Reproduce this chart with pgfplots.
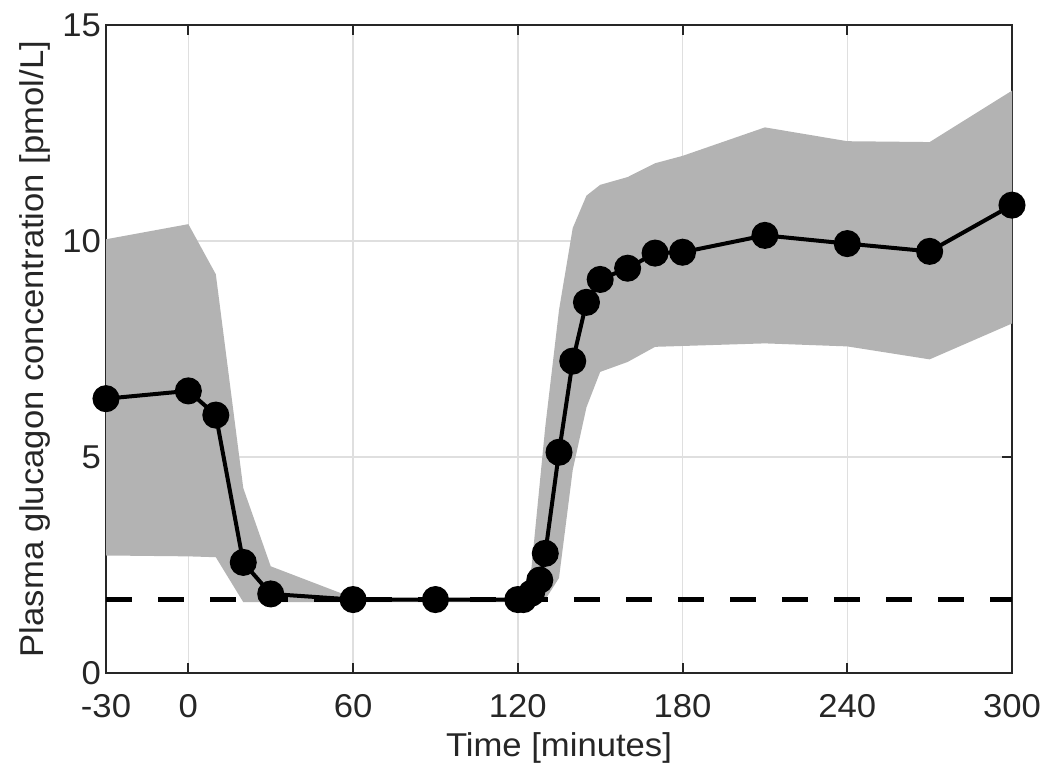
\documentclass[border=0pt]{standalone}
\usepackage{fontspec}
\setmainfont{Liberation Sans}[FakeStretch=1.05]
\usepackage{pgfplots}
\pgfplotsset{compat=1.18}
\definecolor{axcol}{HTML}{262626}
\definecolor{gridcol}{HTML}{DFDFDF}
\definecolor{bandcol}{HTML}{B3B3B3}
\pgfplotsset{
  layers/mylayers/.define layer set={axis background,axis grid,main,axis ticks,axis lines,axis tick labels,axis descriptions,axis foreground}{},
}
\begin{document}
\begin{tikzpicture}
\begin{axis}[
  set layers=mylayers,
  scale only axis,
  width=453bp, height=324bp,
  xmin=-30, xmax=300, ymin=0, ymax=15,
  xtick={-30,0,60,120,180,240,300},
  xticklabels={-30,0,60,120,180,240,300},
  ytick={0,5,10,15},
  yticklabels={0,5,10,15},
  tick align=inside,
  major tick length=5bp,
  axis line style={axcol, line width=1bp},
  every tick/.style={axcol, line width=1bp},
  grid=major,
  major grid style={gridcol, line width=0.75bp},
  ticklabel style={font=\fontsize{16.5bp}{19bp}\selectfont, text=axcol},
  xticklabel style={yshift=-7bp},
  yticklabel style={xshift=1bp},
  xlabel={Time [minutes]},
  ylabel={Plasma glucagon concentration [pmol/L]},
  every axis x label/.style={at={(axis description cs:0.5,-0.1157)}, anchor=center, font=\fontsize{16.5bp}{19bp}\selectfont, text=axcol},
  every axis y label/.style={at={(axis description cs:-0.0784,0.5)}, rotate=90, anchor=center, font=\fontsize{16.5bp}{19bp}\selectfont, text=axcol},
  clip=false,
]
% SD band (upper then lower reversed)
\addplot[fill=bandcol, draw=none] coordinates {
(-30,10.04) (0,10.39) (10,9.23) (20,4.28) (30,2.47) (60,1.74) (90,1.72) (120,1.72) (122,1.75) (125,2.45) (130,5.7) (135,8.4) (140,10.3) (145,11.05) (150,11.3) (160,11.48) (170,11.8) (180,11.97) (210,12.63) (240,12.31) (270,12.29) (300,13.48)
(300,8.09) (270,7.26) (240,7.56) (210,7.63) (180,7.57) (170,7.55) (160,7.2) (150,6.97) (145,6.15) (140,4.7) (135,2.2) (130,1.7) (125,1.66) (120,1.64) (90,1.64) (60,1.64) (30,1.64) (20,1.64) (10,2.68) (0,2.70) (-30,2.72)
} --cycle;
% fasting reference
\addplot[black, line width=2.5bp, dash pattern=on 13bp off 13bp] coordinates {(-30,1.70) (300,1.70)};
% mean
\addplot[black, line width=2bp, mark=*, mark size=5.75bp, mark options={solid, fill=black}] coordinates {
(-30,6.35) (0,6.53) (10,5.97) (20,2.56) (30,1.83) (60,1.70) (90,1.70) (120,1.70) (122,1.70) (125,1.85) (128,2.15) (130,2.77) (135,5.11) (140,7.22) (145,8.58) (150,9.11) (160,9.37) (170,9.72) (180,9.74) (210,10.13) (240,9.94) (270,9.76) (300,10.83)
};
\end{axis}
\pgfresetboundingbox
\path[use as bounding box] ([xshift=-53bp,yshift=-52.5bp]current axis.south west) rectangle ([xshift=19bp,yshift=12.5bp]current axis.north east);
\end{tikzpicture}
\end{document}
